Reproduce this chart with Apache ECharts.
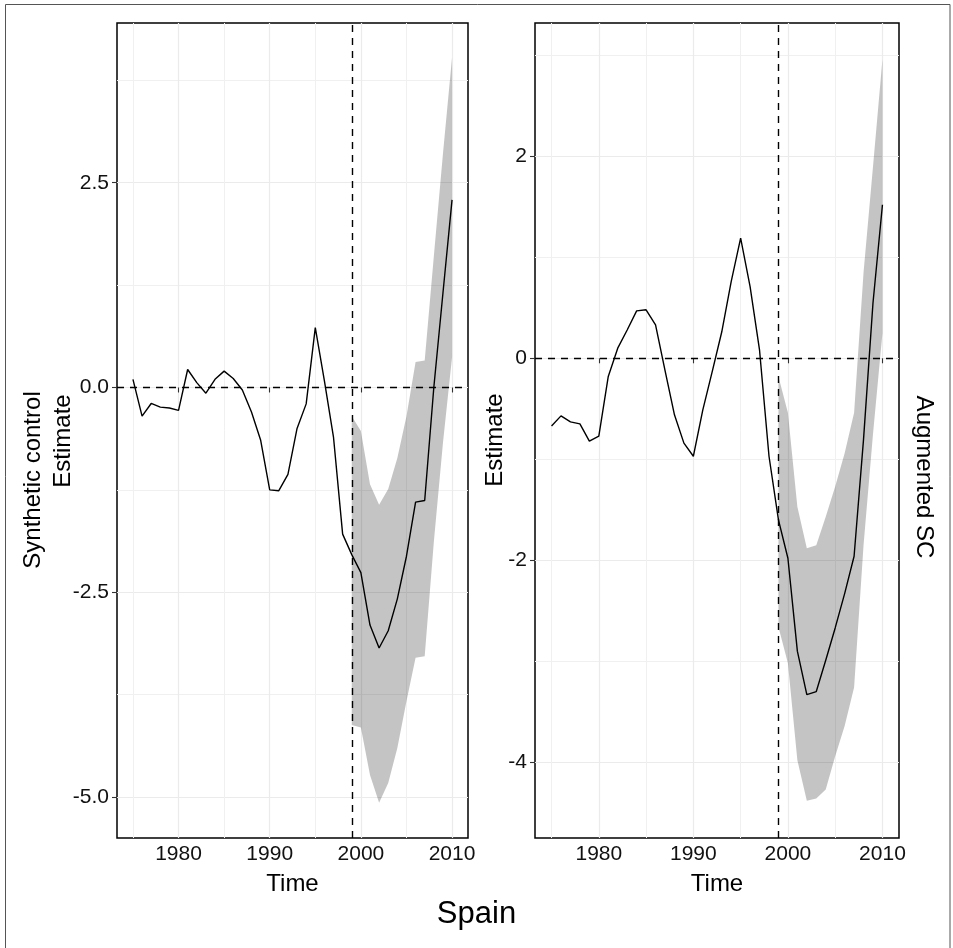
<!DOCTYPE html>
<html>
<head>
<meta charset="utf-8">
<script src="https://cdn.jsdelivr.net/npm/echarts@6/dist/echarts.min.js"></script>
<style>
  html, body { margin: 0; background: #fff; }
  #chart { width: 953px; height: 948px; }
</style>
</head>
<body>
<div id="chart"></div>
<script>
// Yearly treatment-effect estimates for Spain, two estimators.
const years = [1975, 1976, 1977, 1978, 1979, 1980, 1981, 1982, 1983, 1984, 1985, 1986,
  1987, 1988, 1989, 1990, 1991, 1992, 1993, 1994, 1995, 1996, 1997, 1998,
  1999, 2000, 2001, 2002, 2003, 2004, 2005, 2006, 2007, 2008, 2009, 2010];
const scEstimate = [0.10, -0.35, -0.195, -0.24, -0.25, -0.28, 0.22, 0.06, -0.07, 0.10, 0.20, 0.11,
  -0.03, -0.30, -0.64, -1.25, -1.26, -1.06, -0.50, -0.20, 0.73, 0.08, -0.61, -1.79,
  -2.04, -2.26, -2.90, -3.18, -2.97, -2.58, -2.06, -1.40, -1.38, 0.00, 1.15, 2.29];
const ascEstimate = [-0.67, -0.57, -0.63, -0.65, -0.82, -0.77, -0.18, 0.10, 0.28, 0.47, 0.48, 0.33,
  -0.12, -0.56, -0.84, -0.97, -0.51, -0.13, 0.26, 0.76, 1.19, 0.71, 0.08, -0.97,
  -1.60, -1.98, -2.90, -3.33, -3.30, -2.99, -2.67, -2.33, -1.96, -0.80, 0.55, 1.52];

// Confidence bands, post-treatment years only.
const bandYears = [1999, 2000, 2001, 2002, 2003, 2004, 2005, 2006, 2007, 2008, 2009, 2010];
const scLower = [-4.12, -4.15, -4.73, -5.07, -4.83, -4.40, -3.83, -3.30, -3.28, -1.89, -0.68, 0.37];
const scUpper = [-0.35, -0.53, -1.18, -1.43, -1.24, -0.86, -0.35, 0.31, 0.33, 1.60, 2.85, 4.03];
const ascLower = [-2.66, -3.02, -3.98, -4.38, -4.36, -4.27, -3.94, -3.64, -3.26, -1.85, -0.75, 0.25];
const ascUpper = [-0.18, -0.54, -1.47, -1.88, -1.85, -1.57, -1.27, -0.94, -0.54, 0.85, 1.90, 2.96];

const treatYear = 1999;

// Axis ticks (major carry labels, minor are grid only).
const xTicks = [1980, 1990, 2000, 2010];
const xMinor = [1975, 1985, 1995, 2005];
const scYTicks = [-5, -2.5, 0, 2.5];
const scYMinor = [-3.75, -1.25, 1.25, 3.75];
const ascYTicks = [-4, -2, 0, 2];
const ascYMinor = [-3, -1, 1, 3];

const FONT = '"Liberation Sans", Arial, Helvetica, sans-serif';
const xRange = [1973.25, 2011.75];
const scYRange = [-5.5, 4.45];
const ascYRange = [-4.75, 3.32];

const pairs = (xs, ys) => xs.map((x, i) => [x, ys[i]]);

function majorX(gridIndex) {
  return {
    type: 'value', gridIndex, min: xRange[0], max: xRange[1],
    axisLine: { show: false },
    axisTick: { show: true, length: 5, customValues: xTicks, lineStyle: { color: '#333', width: 1.1 } },
    axisLabel: { customValues: xTicks, fontSize: 21, color: '#111', margin: 6, fontFamily: FONT,
      formatter: v => String(v) },
    splitLine: { show: true, lineStyle: { color: '#ebebeb', width: 1.2 } },
    name: 'Time', nameLocation: 'middle', nameGap: 34,
    nameTextStyle: { fontSize: 24, color: '#000', fontFamily: FONT }
  };
}
function minorX(gridIndex) {
  return {
    type: 'value', gridIndex, min: xRange[0], max: xRange[1],
    axisLine: { show: false },
    axisTick: { show: false, customValues: xMinor },
    axisLabel: { show: false },
    splitLine: { show: true, lineStyle: { color: '#f0f0f0', width: 1 } }
  };
}
function majorY(gridIndex, range, ticks, fmt) {
  return {
    type: 'value', gridIndex, min: range[0], max: range[1],
    axisLine: { show: false },
    axisTick: { show: true, length: 5, customValues: ticks, lineStyle: { color: '#333', width: 1.1 } },
    axisLabel: { customValues: ticks, fontSize: 21, color: '#111', margin: 8, fontFamily: FONT, formatter: fmt },
    splitLine: { show: true, lineStyle: { color: '#ebebeb', width: 1.2 } }
  };
}
function minorY(gridIndex, range, ticks) {
  return {
    type: 'value', gridIndex, min: range[0], max: range[1],
    axisLine: { show: false },
    axisTick: { show: false, customValues: ticks },
    axisLabel: { show: false },
    splitLine: { show: true, lineStyle: { color: '#f0f0f0', width: 1 } }
  };
}

// Ribbon between lower and upper: one polygon, drawn when the first row is rendered.
function bandSeries(xIdx, yIdx, lower, upper) {
  const rows = bandYears.map((yr, i) => [yr, lower[i], upper[i]]);
  return {
    type: 'custom', xAxisIndex: xIdx, yAxisIndex: yIdx, silent: true, clip: true,
    encode: { x: 0, y: [1, 2] },
    data: rows,
    renderItem(params, api) {
      if (params.dataIndex !== 0) return null;
      const n = rows.length;
      const top = [], bottom = [];
      for (let i = 0; i < n; i++) {
        const x = api.value(0, i);
        bottom.push(api.coord([x, api.value(1, i)]));
        top.push(api.coord([x, api.value(2, i)]));
      }
      return {
        type: 'polygon',
        shape: { points: bottom.concat(top.reverse()) },
        style: { fill: 'rgba(0,0,0,0.23)', stroke: 'none' }
      };
    }
  };
}

function lineSeries(xIdx, yIdx, estimate) {
  return {
    type: 'line', xAxisIndex: xIdx, yAxisIndex: yIdx,
    data: pairs(years, estimate), symbol: 'none', silent: true, z: 3,
    lineStyle: { color: '#000', width: 1.4 },
    markLine: {
      silent: true, symbol: ['none', 'none'], label: { show: false },
      lineStyle: { color: '#000', width: 1.4, type: [7, 6] },
      data: [{ xAxis: treatYear }, { yAxis: 0 }]
    }
  };
}

const chart = echarts.init(document.getElementById('chart'), null, { renderer: 'canvas' });
chart.setOption({
  animation: false,
  backgroundColor: '#fff',
  textStyle: { fontFamily: FONT },
  title: {
    text: 'Spain', left: 'center', top: 899, padding: 0,
    textStyle: { fontSize: 31, fontWeight: 'normal', color: '#000', fontFamily: FONT }
  },
  grid: [
    { left: 117, top: 23, width: 351, height: 815, show: true, borderColor: '#000', borderWidth: 1.5, backgroundColor: 'transparent' },
    { left: 535, top: 23, width: 364, height: 815, show: true, borderColor: '#000', borderWidth: 1.5, backgroundColor: 'transparent' }
  ],
  xAxis: [majorX(0), minorX(0), majorX(1), minorX(1)],
  yAxis: [
    majorY(0, scYRange, scYTicks, v => v.toFixed(1)),
    minorY(0, scYRange, scYMinor),
    majorY(1, ascYRange, ascYTicks, v => String(v)),
    minorY(1, ascYRange, ascYMinor)
  ],
  series: [
    bandSeries(0, 0, scLower, scUpper),
    lineSeries(0, 0, scEstimate),
    bandSeries(2, 2, ascLower, ascUpper),
    lineSeries(2, 2, ascEstimate)
  ],
  graphic: [
    {
      type: 'rect', silent: true, z: -10,
      shape: { x: 5.5, y: 4.5, width: 944.5, height: 960 },
      style: { fill: 'none', stroke: '#555', lineWidth: 1 }
    },
    {
      type: 'text', x: 33, y: 480, rotation: Math.PI / 2, silent: true,
      style: { text: 'Synthetic control', font: '24px ' + FONT, fill: '#000',
        textAlign: 'center', textVerticalAlign: 'middle', align: 'center', verticalAlign: 'middle' }
    },
    {
      type: 'text', x: 63, y: 441, rotation: Math.PI / 2, silent: true,
      style: { text: 'Estimate', font: '24px ' + FONT, fill: '#000',
        textAlign: 'center', textVerticalAlign: 'middle', align: 'center', verticalAlign: 'middle' }
    },
    {
      type: 'text', x: 495, y: 440, rotation: Math.PI / 2, silent: true,
      style: { text: 'Estimate', font: '24px ' + FONT, fill: '#000',
        textAlign: 'center', textVerticalAlign: 'middle', align: 'center', verticalAlign: 'middle' }
    },
    {
      type: 'text', x: 924, y: 477, rotation: -Math.PI / 2, silent: true,
      style: { text: 'Augmented SC', font: '24px ' + FONT, fill: '#000',
        textAlign: 'center', textVerticalAlign: 'middle', align: 'center', verticalAlign: 'middle' }
    }
  ]
});
</script>
</body>
</html>
